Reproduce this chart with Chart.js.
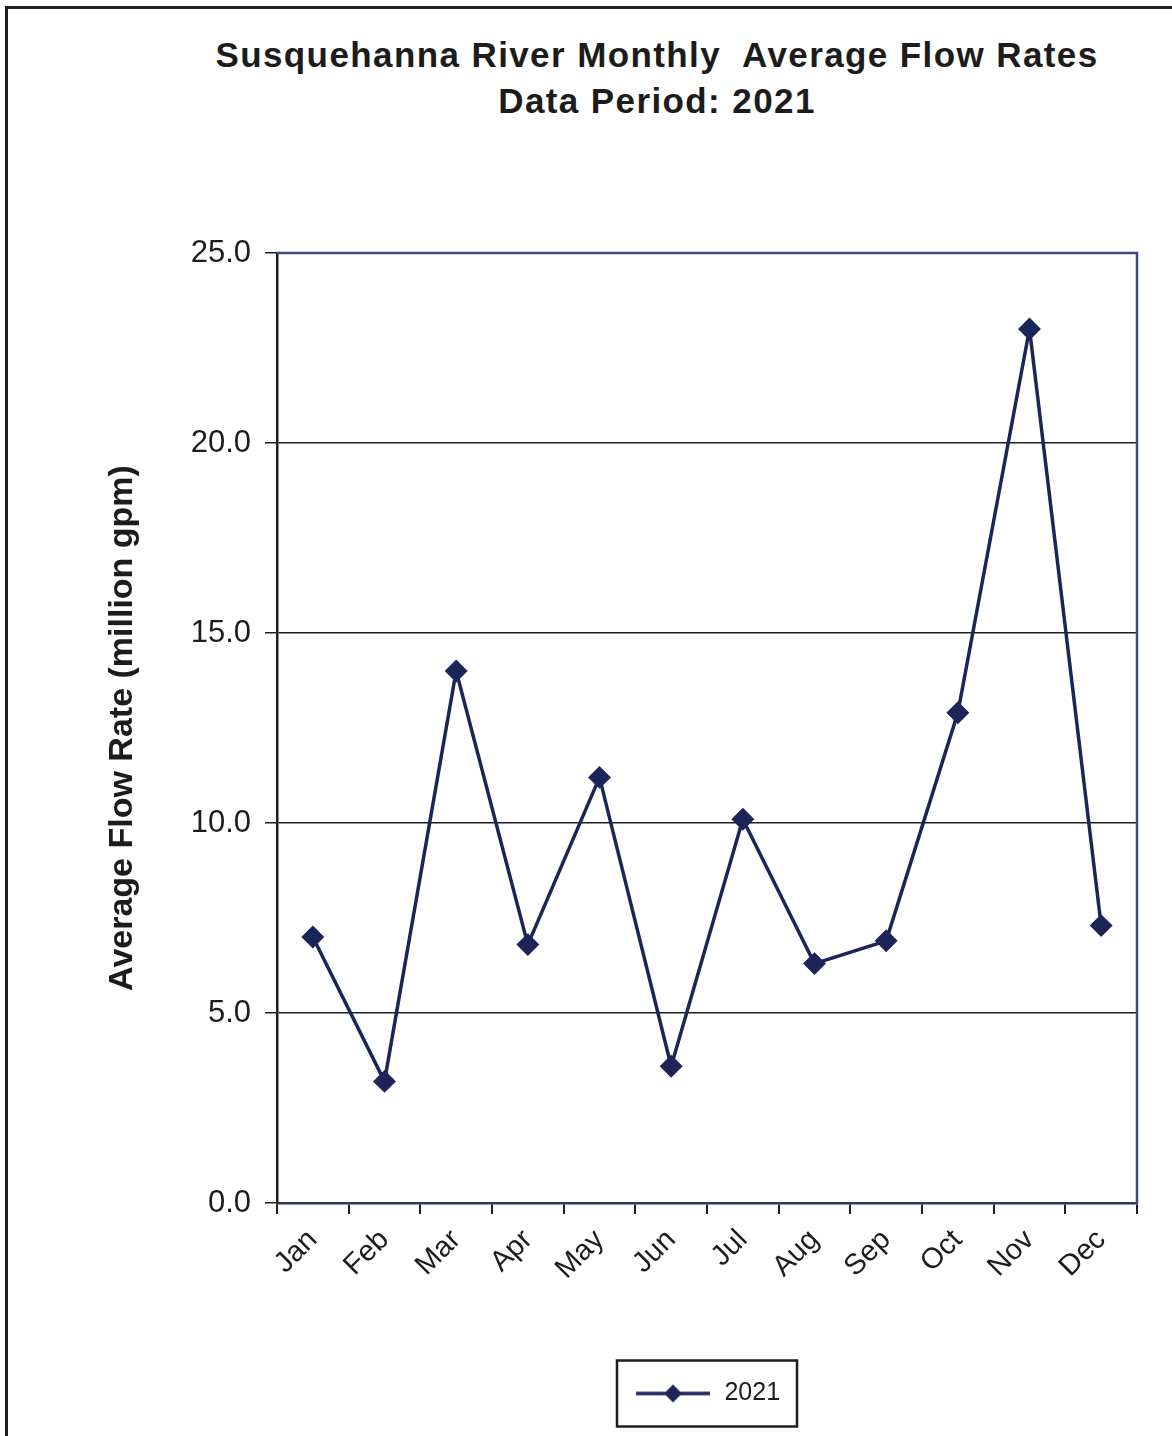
<!DOCTYPE html>
<html>
<head>
<meta charset="utf-8">
<title>Susquehanna River Monthly Average Flow Rates</title>
<script src="https://cdn.jsdelivr.net/npm/chart.js@4.4.1/dist/chart.umd.min.js"></script>
<style>
  html, body { margin: 0; padding: 0; background: #fff; }
  #wrap { position: relative; width: 1172px; height: 1436px; overflow: hidden; }
  #frame { position: absolute; left: 5px; top: 6px; width: 1200px; height: 1500px;
           border-left: 3px solid #1e1e1e; border-top: 3px solid #1e1e1e; box-sizing: border-box; }
  #title { position: absolute; left: 157px; top: 32px; width: 1000px; text-align: center;
           font: bold 35px "Liberation Sans", Arial, sans-serif; line-height: 46px; color: #1c1c1c;
           letter-spacing: 1.4px; white-space: pre; }
  canvas { position: absolute; left: 0; top: 0; }
</style>
</head>
<body>
<div id="wrap">
  <div id="frame"></div>
  <div id="title">Susquehanna River Monthly  Average Flow Rates
Data Period: 2021</div>
  <canvas id="flowChart" width="1172" height="1436"></canvas>
</div>
<script>
/* monthly flow data */
const months = ["Jan", "Feb", "Mar", "Apr", "May", "Jun", "Jul", "Aug", "Sep", "Oct", "Nov", "Dec"];
const flow2021 = [7.0, 3.2, 14.0, 6.8, 11.2, 3.6, 10.1, 6.3, 6.9, 12.9, 23.0, 7.3];
const yTicks = [0, 5, 10, 15, 20, 25];

const navy = "#1b2558";
const fontFam = '"Liberation Sans", Arial, sans-serif';

// legend sample: short line with a diamond in the middle
function legendSample() {
  const c = document.createElement("canvas");
  c.width = 74; c.height = 22;
  const g = c.getContext("2d");
  g.strokeStyle = navy; g.lineWidth = 3.5;
  g.beginPath(); g.moveTo(0, 11); g.lineTo(74, 11); g.stroke();
  g.fillStyle = navy;
  g.beginPath(); g.moveTo(37, 2); g.lineTo(46, 11); g.lineTo(37, 20); g.lineTo(28, 11); g.closePath(); g.fill();
  return c;
}

const framePlugin = {
  id: "frame",
  beforeDatasetsDraw(chart) {
    const { ctx, chartArea: a } = chart;
    ctx.save();
    ctx.strokeStyle = "#3c4a80";
    ctx.lineWidth = 2.5;
    ctx.beginPath();
    ctx.moveTo(a.left, a.top); ctx.lineTo(a.right, a.top); ctx.lineTo(a.right, a.bottom);
    ctx.stroke();
    ctx.restore();
  },
  afterDraw(chart) {
    const hit = chart.legend.legendHitBoxes[0];
    if (!hit) return;
    const { ctx } = chart;
    const cx = hit.left + hit.width / 2, cy = hit.top + hit.height / 2;
    ctx.save();
    ctx.strokeStyle = "#1e1e1e";
    ctx.lineWidth = 2.5;
    ctx.strokeRect(cx - 90, cy - 33, 180, 66);
    ctx.restore();
  }
};

new Chart(document.getElementById("flowChart"), {
  type: "line",
  data: {
    labels: months,
    datasets: [{
      label: "2021",
      data: flow2021,
      borderColor: navy,
      backgroundColor: navy,
      borderWidth: 3.5,
      tension: 0,
      pointStyle: "rectRot",
      pointRadius: 9,
      pointHoverRadius: 9
    }]
  },
  options: {
    responsive: false,
    animation: false,
    devicePixelRatio: 1,
    layout: { padding: { top: 253, right: 35, bottom: 20, left: 0 } },
    plugins: {
      title: { display: false },
      tooltip: { enabled: false },
      legend: {
        position: "bottom",
        fullSize: false,
        labels: {
          padding: 10,
          usePointStyle: true,
          pointStyleWidth: 78,
          color: "#1c1c1c",
          font: { family: fontFam, size: 25 },
          generateLabels: chart => chart.data.datasets.map((ds, i) => ({
            text: ds.label,
            pointStyle: legendSample(),
            fillStyle: navy,
            strokeStyle: navy,
            lineWidth: 0,
            datasetIndex: i,
            fontColor: "#1c1c1c"
          }))
        }
      }
    },
    scales: {
      x: {
        offset: true,
        afterFit: s => { s.height = 168; },
        grid: { display: true, drawOnChartArea: false, offset: true, tickLength: 11, color: "#1e1e1e", lineWidth: 2 },
        border: { display: true, color: "#2c355e", width: 2.5 },
        ticks: {
          color: "#1c1c1c",
          font: { family: fontFam, size: 29 },
          minRotation: 45,
          maxRotation: 45,
          padding: 9,
          autoSkip: false
        }
      },
      y: {
        min: 0,
        max: 25,
        afterFit: s => { s.width = 277; },
        afterBuildTicks: s => { s.ticks = yTicks.map(v => ({ value: v })); },
        grid: { color: "#1e1e1e", lineWidth: 1.5, tickLength: 12 },
        border: { display: true, color: "#1e1e1e", width: 2.5 },
        ticks: {
          color: "#1c1c1c",
          font: { family: fontFam, size: 31 },
          padding: 14,
          callback: v => v.toFixed(1)
        },
        title: {
          display: true,
          text: "Average Flow Rate (million gpm)",
          color: "#1c1c1c",
          font: { family: fontFam, size: 34, weight: "bold" },
          padding: { top: 102, bottom: 0 }
        }
      }
    }
  },
  plugins: [framePlugin]
});
</script>
</body>
</html>
